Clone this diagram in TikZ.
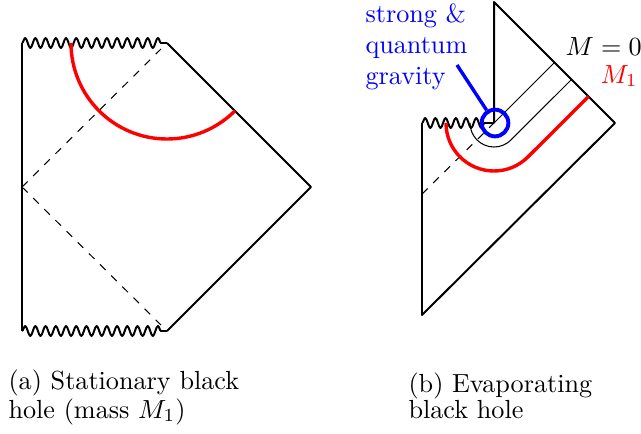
\documentclass[tikz,border=0pt]{standalone}
\usetikzlibrary{decorations.pathmorphing}
\begin{document}
\begin{tikzpicture}[x=0.382pt,y=-0.382pt,
  bh/.style={line width=0.76pt, line join=round},
  sing/.style={bh, decorate, decoration={snake, segment length=3.9pt, amplitude=1.9pt, post length=1.9pt}},
  hor/.style={line width=0.4pt, dashed},
  shell/.style={line width=0.4pt},
  redshell/.style={line width=1.3pt, red},
  lab/.style={inner sep=0pt, anchor=base west},
]
\useasboundingbox (0,0) rectangle (641,434);
% (a) stationary black hole
\coordinate (aTL) at (22,43);
\coordinate (aBL) at (22,331);
\coordinate (aTS) at (167,43);
\coordinate (aBS) at (167,331);
\coordinate (aR) at (311,187);
\coordinate (aM) at (22,187);
\coordinate (aH1) at (161,49);
\coordinate (aH2) at (161,325);
\draw[bh] (aTL) -- (aBL);
\draw[sing] (aTL) -- (aTS);
\draw[sing] (aBL) -- (aBS);
\draw[bh] (aTS) -- (aR) -- (aBS);
\draw[hor] (aM) -- (aH1);
\draw[hor] (aM) -- (aH2);
\draw[redshell] (71,43) arc[start angle=180, end angle=45, radius=96];
% (b) evaporating black hole
\coordinate (bT) at (494,2);
\coordinate (bS) at (494,123);
\coordinate (bR) at (615,123);
\coordinate (bB) at (422,315);
\coordinate (bL) at (422,123);
\coordinate (bH) at (422,194);
\coordinate (bM0) at (554.5,62.5);
\coordinate (bM0b) at (571.5,79.5);
\coordinate (bM1) at (588.5,96.5);
\draw[bh] (bS) -- (bT) -- (bR) -- (bB) -- (bL);
\draw[sing] (bL) -- (bS);
\draw[hor] (bH) -- (bS);
\draw[shell] (bS) -- (bM0);
\draw[shell] (470,123) arc[start angle=180, end angle=45, radius=24] -- (bM0b);
\draw[redshell] (446,123) arc[start angle=180, end angle=45, radius=48] -- (bM1);
\node[circle, draw=blue, line width=1.5pt, inner sep=0pt, minimum size=10.2pt] (qg) at (495,123) {};
\coordinate (qs) at (457,65);
\draw[blue, line width=1.3pt] (qs) -- (qg);
% labels
\node[lab, blue, align=left, font=\fontsize{10}{11.7}\selectfont] (qt) at (365,84) {strong \&\\quantum\\gravity};
\node[lab] (m0) at (565,55) {$M=0$};
\node[lab, red] (m1) at (600,83) {$M_1$};
\node[lab, align=left, font=\fontsize{10}{9.9}\selectfont] (capa) at (8,418) {(a) Stationary black\\hole (mass $M_1$)};
\node[lab, align=left, font=\fontsize{10}{9.9}\selectfont] (capb) at (408,418) {(b) Evaporating\\black hole};
\end{tikzpicture}
\end{document}
